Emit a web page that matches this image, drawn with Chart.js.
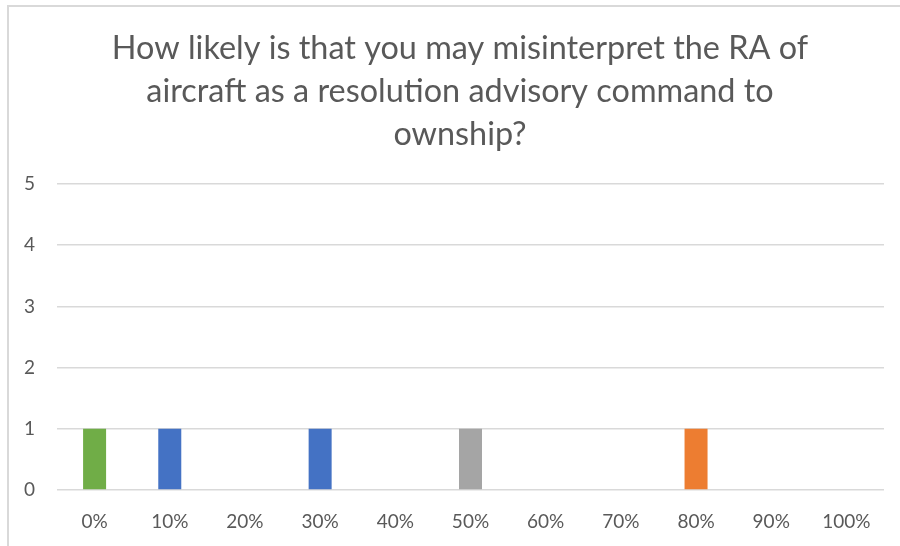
<!DOCTYPE html>
<html>
<head>
<meta charset="utf-8">
<script src="https://cdn.jsdelivr.net/npm/chart.js@4.4.1/dist/chart.umd.min.js"></script>
<style>
  html, body { margin: 0; padding: 0; background: #ffffff; overflow: hidden; width: 900px; height: 546px; }
  #frame {
    position: absolute; left: 7px; top: 5px;
    width: 910px; height: 560px;
    border-left: 2px solid #d9d9d9; border-top: 2px solid #d9d9d9;
    background: #ffffff;
  }
  #chart { display: block; }
</style>
</head>
<body>
<div id="frame"><canvas id="chart" width="902" height="539"></canvas></div>
<script>
// Survey answers: how many respondents picked each likelihood
const categories = ['0%', '10%', '20%', '30%', '40%', '50%', '60%', '70%', '80%', '90%', '100%'];
const counts = [1, 1, 0, 1, 0, 1, 0, 0, 1, 0, 0];
const barColors = ['#70AD47', '#4472C4', '#4472C4', '#4472C4', '#4472C4', '#A5A5A5', '#A5A5A5', '#ED7D31', '#ED7D31', '#ED7D31', '#ED7D31'];
const titleLines = [
  'How likely is that you may misinterpret the RA of',
  'aircraft as a resolution advisory command to',
  'ownship?'
];
const yTicks = [0, 1, 2, 3, 4, 5];

const textColor = '#595959';
const gridColor = '#d9d9d9';
const fontFamily = 'Lato, "Open Sans", sans-serif';

// Centre the title on the whole canvas rather than on the padded layout box
const fullWidthTitle = {
  id: 'fullWidthTitle',
  afterLayout(chart) {
    const t = chart.titleBlock;
    if (t) { t.left = 0; t.right = chart.width; t.width = chart.width; }
  }
};

new Chart(document.getElementById('chart'), {
  type: 'bar',
  data: {
    labels: categories,
    datasets: [{
      data: counts,
      backgroundColor: barColors,
      borderWidth: 0,
      categoryPercentage: 1.0,
      barPercentage: 0.306
    }]
  },
  plugins: [fullWidthTitle],
  options: {
    responsive: false,
    animation: false,
    devicePixelRatio: 1,
    layout: { padding: { left: 0, right: 27, top: 0, bottom: 0 } },
    plugins: {
      legend: { display: false },
      tooltip: { enabled: false },
      title: {
        display: true,
        text: titleLines,
        color: textColor,
        font: { family: fontFamily, size: 32.4, weight: 'normal', lineHeight: 43 / 32.4 },
        padding: { top: 20, bottom: 28 }
      }
    },
    scales: {
      x: {
        grid: { display: false, drawTicks: false },
        border: { display: false },
        ticks: {
          color: textColor,
          font: { family: fontFamily, size: 19 },
          padding: 20,
          maxRotation: 0,
          autoSkip: false
        },
        afterFit: (scale) => { scale.height = 56; }
      },
      y: {
        min: yTicks[0],
        max: yTicks[yTicks.length - 1],
        grid: { color: gridColor, lineWidth: 1.5, drawTicks: false },
        border: { display: false },
        ticks: {
          stepSize: 1,
          color: textColor,
          font: { family: fontFamily, size: 19 },
          padding: 22
        },
        afterFit: (scale) => { scale.width = 48; }
      }
    }
  }
});
</script>
</body>
</html>
